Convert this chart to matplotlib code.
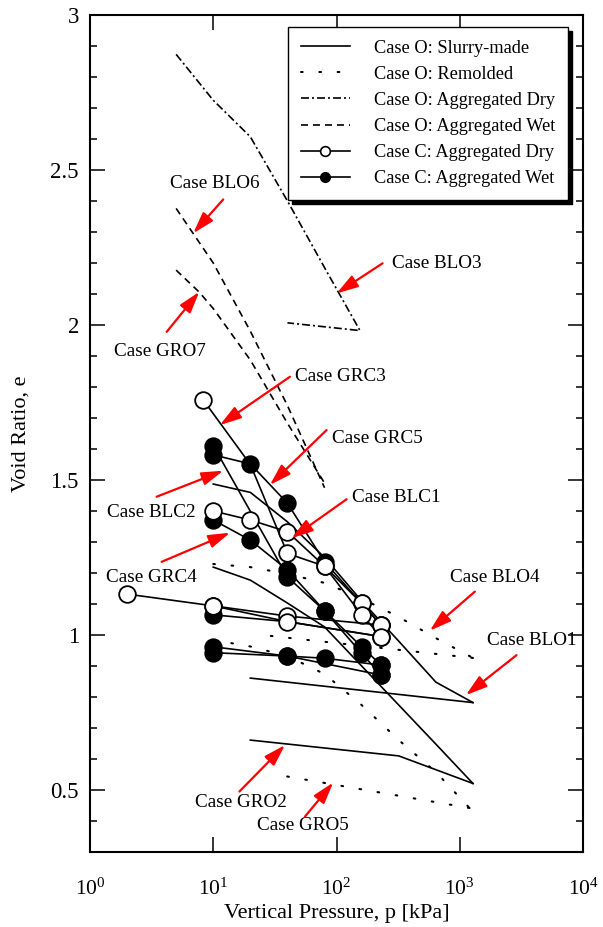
import matplotlib
matplotlib.use('Agg')
import matplotlib.pyplot as plt
from matplotlib.lines import Line2D
from matplotlib.ticker import FixedLocator, MultipleLocator, FuncFormatter, NullLocator

plt.rcParams['font.family'] = ['Liberation Serif', 'DejaVu Serif']
plt.rcParams['mathtext.fontset'] = 'custom'
plt.rcParams['mathtext.rm'] = 'Liberation Serif'
plt.rcParams['mathtext.it'] = 'Liberation Serif:italic'

# ---------------- data ----------------
# Case O: Slurry-made (solid)
blo1_load_p = [10, 20, 40, 80, 160, 320, 640, 1280]
blo1_load_e = [1.487, 1.46, 1.365, 1.25, 1.11, 0.98, 0.848, 0.782]
blo1_unl_p = [1280, 20]
blo1_unl_e = [0.782, 0.861]
gro2_load_p = [10, 20, 40, 80, 160, 320, 640, 1280]
gro2_load_e = [1.219, 1.177, 1.103, 1.026, 0.90, 0.774, 0.648, 0.521]
gro2_unl_p = [1280, 320, 20]
gro2_unl_e = [0.521, 0.61, 0.661]

# Case O: Remolded (dotted)
blo4_load_p = [10, 20, 40, 80, 160, 320, 640, 1280]
blo4_load_e = [1.229, 1.219, 1.197, 1.168, 1.118, 1.058, 0.99, 0.926]
blo4_unl_p = [1280, 25]
blo4_unl_e = [0.926, 1.0]
gro5_load_p = [10, 20, 40, 80, 160, 320, 640, 1200]
gro5_load_e = [0.984, 0.963, 0.932, 0.874, 0.774, 0.661, 0.558, 0.442]
gro5_unl_p = [1200, 30]
gro5_unl_e = [0.442, 0.552]

# Case O: Aggregated Dry (dash-dot)
blo3_p = [5, 10, 20, 40, 80, 155, 40]
blo3_e = [2.873, 2.725, 2.607, 2.40, 2.185, 1.982, 2.007]

# Case O: Aggregated Wet (dashed)
blo6_p = [5, 10, 20, 40, 80]
blo6_e = [2.376, 2.20, 1.98, 1.74, 1.475]
gro7_p = [5, 7.7, 10, 20, 40, 80]
gro7_e = [2.177, 2.106, 2.053, 1.887, 1.683, 1.49]

# Case C: Aggregated Dry (open circles)
grc3_p = [8.3, 20, 40, 80, 160, 230]
grc3_e = [1.758, 1.55, 1.263, 1.222, 1.102, 1.032]
blc1_p = [10, 20, 40, 80, 160, 230]
blc1_e = [1.40, 1.371, 1.333, 1.222, 1.065, 0.995]
grc4_p = [2, 10, 40, 230]
grc4_e = [1.132, 1.094, 1.061, 1.032]
cd4_p = [10, 40, 230]
cd4_e = [1.094, 1.043, 0.995]

# Case C: Aggregated Wet (filled circles)
grc5_p = [10, 20, 40, 80, 160, 230]
grc5_e = [1.581, 1.552, 1.425, 1.236, 1.102, 1.032]
blc2_p = [10, 40, 80, 160, 230]
blc2_e = [1.611, 1.187, 1.078, 0.962, 0.903]
cw3_p = [10, 20, 40, 80, 160, 230]
cw3_e = [1.371, 1.306, 1.21, 1.078, 0.941, 0.871]
cw4_p = [10, 40, 230]
cw4_e = [1.065, 1.043, 0.995]
cw5_p = [10, 40, 80, 230]
cw5_e = [0.962, 0.932, 0.925, 0.903]
cw6_p = [10, 40, 230]
cw6_e = [0.943, 0.932, 0.871]

legend_labels = ['Case O: Slurry-made', 'Case O: Remolded', 'Case O: Aggregated Dry',
                 'Case O: Aggregated Wet', 'Case C: Aggregated Dry', 'Case C: Aggregated Wet']

xtick_vals = [1, 10, 100, 1000, 10000]
xtick_labels = [r'$\mathregular{10^{0}}$', r'$\mathregular{10^{1}}$', r'$\mathregular{10^{2}}$',
                r'$\mathregular{10^{3}}$', r'$\mathregular{10^{4}}$']

# ---------------- figure ----------------
fig = plt.figure(figsize=(6.03, 9.27), dpi=100)
ax = fig.add_axes([90 / 603, 1 - 852 / 927, 493 / 603, 837 / 927])

LW = 1.2
dotted = (0, (0.8, 8))
dashdot = (0, (4.8, 1.8, 1.2, 1.8))
dashed = (0, (4.2, 3.0))

for p, e in [(blo1_load_p, blo1_load_e), (blo1_unl_p, blo1_unl_e),
             (gro2_load_p, gro2_load_e), (gro2_unl_p, gro2_unl_e)]:
    ax.plot(p, e, color='k', lw=LW, ls='-', zorder=2)
for p, e in [(blo4_load_p, blo4_load_e), (blo4_unl_p, blo4_unl_e),
             (gro5_load_p, gro5_load_e), (gro5_unl_p, gro5_unl_e)]:
    ax.plot(p, e, color='k', lw=1.5, ls=dotted, dash_capstyle='round', zorder=2)
ax.plot(blo3_p, blo3_e, color='k', lw=LW, ls=dashdot, zorder=2)
for p, e in [(blo6_p, blo6_e), (gro7_p, gro7_e)]:
    ax.plot(p, e, color='k', lw=LW, ls=dashed, zorder=2)

MS = 12
wet = [(grc5_p, grc5_e, None), (blc2_p, blc2_e, None), (cw3_p, cw3_e, None),
       (cw4_p, cw4_e, [0]), (cw5_p, cw5_e, None), (cw6_p, cw6_e, None)]
for p, e, me in wet:
    ax.plot(p, e, color='k', lw=LW, marker='o', ms=MS, mfc='k', mec='k', mew=1.2,
            markevery=me, zorder=3)
dry = [(grc3_p, grc3_e, [0, 2, 3, 4, 5]), (blc1_p, blc1_e, None),
       (grc4_p, grc4_e, None), (cd4_p, cd4_e, None)]
for p, e, me in dry:
    ax.plot(p, e, color='k', lw=LW, marker='o', ms=MS, mfc='white', mec='k', mew=1.3,
            markevery=me, zorder=4)

# annotations
notes = [
    ('Case BLO6', (10.3, 2.455), 'center', (12.05, 2.405), (6.88, 2.296)),
    ('Case BLO3', (281, 2.197), 'left', (236.6, 2.199), (100.2, 2.102)),
    ('Case GRO7', (3.7, 1.913), 'center', (4.19, 1.978), (7.7, 2.107)),
    ('Case GRC3', (46, 1.835), 'left', (41.9, 1.833), (11.3, 1.677)),
    ('Case GRC5', (91.8, 1.635), 'left', (83.1, 1.661), (28.8, 1.484)),
    ('Case BLC1', (133, 1.442), 'left', (120.8, 1.438), (43.2, 1.312)),
    ('Case BLC2', (7.24, 1.394), 'right', (3.47, 1.446), (12.05, 1.530)),
    ('Case GRC4', (3.12, 1.184), 'center', (3.81, 1.236), (13.7, 1.33)),
    ('Case BLO4', (831, 1.184), 'left', (1326, 1.14), (572, 1.014)),
    ('Case BLO1', (1660, 0.981), 'left', (2890, 0.935), (1120, 0.806)),
    ('Case GRO2', (16.8, 0.461), 'center', (16.3, 0.495), (38.2, 0.645)),
    ('Case GRO5', (53.4, 0.384), 'center', (55.4, 0.414), (94, 0.524)),
]
for txt, tpos, ha, tail, tip in notes:
    ax.text(tpos[0], tpos[1], txt, ha=ha, va='center', fontsize=13.8, zorder=6)
    ax.annotate('', xy=tip, xytext=tail,
                arrowprops=dict(arrowstyle='-|>,head_length=1.3,head_width=0.4',
                                color='red', lw=1.6, shrinkA=0, shrinkB=0,
                                mutation_scale=10), zorder=6)

# axes
ax.set_xscale('log')
ax.set_xlim(1, 1e4)
ax.set_ylim(0.3, 3)
ax.xaxis.set_major_locator(FixedLocator(xtick_vals))
ax.xaxis.set_minor_locator(NullLocator())
ax.set_xticklabels(xtick_labels)
ax.yaxis.set_major_locator(MultipleLocator(0.5))
ax.yaxis.set_minor_locator(MultipleLocator(0.1))
ax.yaxis.set_major_formatter(FuncFormatter(lambda v, pos: '%g' % v))
ax.tick_params(which='both', direction='in', top=True, right=True, width=1.1)
ax.tick_params(which='major', length=11)
ax.tick_params(which='minor', length=5)
ax.tick_params(axis='x', which='major', pad=19, labelsize=15.5)
ax.tick_params(axis='y', which='major', pad=8, labelsize=16.5)
for s in ax.spines.values():
    s.set_linewidth(1.5)
ax.set_xlabel('Vertical Pressure, p [kPa]', fontsize=16, labelpad=3)
ax.set_ylabel('Void Ratio, e', fontsize=16, labelpad=14)

handles = [
    Line2D([], [], color='k', lw=LW, ls='-'),
    Line2D([], [], color='k', lw=1.5, ls=dotted, dash_capstyle='round'),
    Line2D([], [], color='k', lw=LW, ls=dashdot),
    Line2D([], [], color='k', lw=LW, ls=dashed),
    Line2D([], [], color='k', lw=LW, marker='o', ms=7, mfc='white', mec='k', mew=1.2),
    Line2D([], [], color='k', lw=LW, marker='o', ms=7, mfc='k', mec='k'),
]
leg = ax.legend(handles, legend_labels, loc='upper right', bbox_to_anchor=(0.970, 0.986),
                borderaxespad=0, fontsize=13.2, frameon=True, fancybox=False, edgecolor='k',
                framealpha=1, shadow={'color': 'k', 'alpha': 1, 'ox': 3, 'oy': -3},
                handlelength=2.7, handletextpad=1.3, labelspacing=0.5, borderpad=0.7)
leg.get_frame().set_linewidth(1.0)
leg.set_zorder(10)

fig.savefig('out.png', dpi=100)
